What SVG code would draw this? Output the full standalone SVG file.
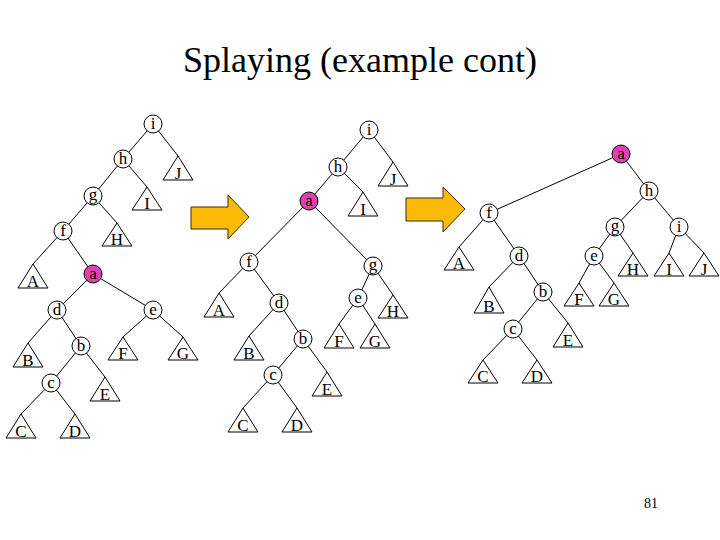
<svg xmlns="http://www.w3.org/2000/svg" width="720" height="540" viewBox="0 0 720 540">
<style>
.e{stroke:#000;stroke-width:1;fill:none}
.n{fill:#fff;stroke:#000;stroke-width:1}
.p{fill:#E040B0;stroke:#000;stroke-width:1}
.t{fill:#fff;stroke:#000;stroke-width:1}
.lbl{font-family:"Liberation Serif","Times New Roman",serif;font-size:17px;text-anchor:middle;fill:#000}
.arr{fill:#FBBA05;stroke:#3a2a00;stroke-width:1}
</style>
<rect width="720" height="540" fill="#fff"/>
<text x="360" y="72" font-family="Liberation Serif, Times New Roman, serif" font-size="36" text-anchor="middle">Splaying (example cont)</text>
<text x="651" y="508" font-family="Liberation Serif, Times New Roman, serif" font-size="14" text-anchor="middle">81</text>

<g id="connectors">
<line class="e" x1="153" y1="124" x2="123" y2="159"/>
<line class="e" x1="153" y1="124" x2="178" y2="156"/>
<line class="e" x1="123" y1="159" x2="93" y2="196"/>
<line class="e" x1="123" y1="159" x2="147" y2="187"/>
<line class="e" x1="93" y1="196" x2="63" y2="231"/>
<line class="e" x1="93" y1="196" x2="117" y2="223"/>
<line class="e" x1="63" y1="231" x2="33" y2="264"/>
<line class="e" x1="63" y1="231" x2="93" y2="274"/>
<line class="e" x1="93" y1="274" x2="57" y2="310"/>
<line class="e" x1="93" y1="274" x2="153" y2="310"/>
<line class="e" x1="57" y1="310" x2="28" y2="343"/>
<line class="e" x1="57" y1="310" x2="81" y2="346"/>
<line class="e" x1="81" y1="346" x2="51" y2="383"/>
<line class="e" x1="81" y1="346" x2="105" y2="377"/>
<line class="e" x1="51" y1="383" x2="21" y2="414"/>
<line class="e" x1="51" y1="383" x2="75" y2="414"/>
<line class="e" x1="153" y1="310" x2="123" y2="337"/>
<line class="e" x1="153" y1="310" x2="183" y2="337"/>
<line class="e" x1="369" y1="130" x2="338" y2="167"/>
<line class="e" x1="369" y1="130" x2="393" y2="162"/>
<line class="e" x1="338" y1="167" x2="309" y2="201"/>
<line class="e" x1="338" y1="167" x2="363" y2="192"/>
<line class="e" x1="309" y1="201" x2="249" y2="262"/>
<line class="e" x1="309" y1="201" x2="373" y2="266"/>
<line class="e" x1="249" y1="262" x2="219" y2="293"/>
<line class="e" x1="249" y1="262" x2="279" y2="303"/>
<line class="e" x1="279" y1="303" x2="249" y2="336"/>
<line class="e" x1="279" y1="303" x2="303" y2="339"/>
<line class="e" x1="303" y1="339" x2="273" y2="375"/>
<line class="e" x1="303" y1="339" x2="327" y2="372"/>
<line class="e" x1="273" y1="375" x2="243" y2="408"/>
<line class="e" x1="273" y1="375" x2="297" y2="408"/>
<line class="e" x1="373" y1="266" x2="358" y2="298"/>
<line class="e" x1="373" y1="266" x2="393" y2="295"/>
<line class="e" x1="358" y1="298" x2="339" y2="324"/>
<line class="e" x1="358" y1="298" x2="375" y2="324"/>
<line class="e" x1="621" y1="154" x2="489" y2="213"/>
<line class="e" x1="621" y1="154" x2="649" y2="191"/>
<line class="e" x1="649" y1="191" x2="615" y2="227"/>
<line class="e" x1="649" y1="191" x2="679" y2="227"/>
<line class="e" x1="489" y1="213" x2="459" y2="247"/>
<line class="e" x1="489" y1="213" x2="519" y2="256"/>
<line class="e" x1="519" y1="256" x2="489" y2="287"/>
<line class="e" x1="519" y1="256" x2="543" y2="292"/>
<line class="e" x1="543" y1="292" x2="513" y2="329"/>
<line class="e" x1="543" y1="292" x2="568" y2="323"/>
<line class="e" x1="513" y1="329" x2="483" y2="360"/>
<line class="e" x1="513" y1="329" x2="537" y2="360"/>
<line class="e" x1="615" y1="227" x2="594" y2="256"/>
<line class="e" x1="615" y1="227" x2="633" y2="253"/>
<line class="e" x1="594" y1="256" x2="579" y2="283"/>
<line class="e" x1="594" y1="256" x2="614" y2="283"/>
<line class="e" x1="679" y1="227" x2="669" y2="253"/>
<line class="e" x1="679" y1="227" x2="704" y2="253"/>
</g>

<g id="arrows">
<polygon class="arr" points="191,207 228,207 228,195 249,217 228,239 228,229 191,229"/>
<polygon class="arr" points="406,198 443,198 443,187 465,209 443,232 443,221 406,221"/>
</g>

<g id="L_i"><circle class="n" cx="153" cy="124" r="9"/><text class="lbl" x="153" y="129">i</text></g>
<g id="L_h"><circle class="n" cx="123" cy="159" r="9"/><text class="lbl" x="123" y="164">h</text></g>
<g id="L_g"><circle class="n" cx="93" cy="196" r="9"/><text class="lbl" x="93" y="200">g</text></g>
<g id="L_f"><circle class="n" cx="63" cy="231" r="9"/><text class="lbl" x="63" y="236">f</text></g>
<g id="L_a"><circle class="p" cx="93" cy="274" r="9"/><text class="lbl" x="93" y="279">a</text></g>
<g id="L_d"><circle class="n" cx="57" cy="310" r="9"/><text class="lbl" x="57" y="315">d</text></g>
<g id="L_e"><circle class="n" cx="153" cy="310" r="9"/><text class="lbl" x="153" y="315">e</text></g>
<g id="L_b"><circle class="n" cx="81" cy="346" r="9"/><text class="lbl" x="81" y="351">b</text></g>
<g id="L_c"><circle class="n" cx="51" cy="383" r="9"/><text class="lbl" x="51" y="388">c</text></g>
<g id="L_J"><polygon class="t" points="178,156 163,180 193,180"/><text class="lbl" x="178" y="179">J</text></g>
<g id="L_I"><polygon class="t" points="147,187 132,210 162,210"/><text class="lbl" x="147" y="209">I</text></g>
<g id="L_H"><polygon class="t" points="117,223 102,246 132,246"/><text class="lbl" x="117" y="245">H</text></g>
<g id="L_A"><polygon class="t" points="33,264 18,288 48,288"/><text class="lbl" x="33" y="287">A</text></g>
<g id="L_B"><polygon class="t" points="28,343 13,367 43,367"/><text class="lbl" x="28" y="366">B</text></g>
<g id="L_F"><polygon class="t" points="123,337 108,360 138,360"/><text class="lbl" x="123" y="359">F</text></g>
<g id="L_G"><polygon class="t" points="183,337 168,360 198,360"/><text class="lbl" x="183" y="359">G</text></g>
<g id="L_E"><polygon class="t" points="105,377 90,401 120,401"/><text class="lbl" x="105" y="400">E</text></g>
<g id="L_C"><polygon class="t" points="21,414 6,438 36,438"/><text class="lbl" x="21" y="437">C</text></g>
<g id="L_D"><polygon class="t" points="75,414 60,438 90,438"/><text class="lbl" x="75" y="437">D</text></g>

<g id="M_i"><circle class="n" cx="369" cy="130" r="9"/><text class="lbl" x="369" y="135">i</text></g>
<g id="M_h"><circle class="n" cx="338" cy="167" r="9"/><text class="lbl" x="338" y="172">h</text></g>
<g id="M_a"><circle class="p" cx="309" cy="201" r="9"/><text class="lbl" x="309" y="206">a</text></g>
<g id="M_f"><circle class="n" cx="249" cy="262" r="9"/><text class="lbl" x="249" y="267">f</text></g>
<g id="M_g"><circle class="n" cx="373" cy="266" r="9"/><text class="lbl" x="373" y="270">g</text></g>
<g id="M_d"><circle class="n" cx="279" cy="303" r="9"/><text class="lbl" x="279" y="308">d</text></g>
<g id="M_b"><circle class="n" cx="303" cy="339" r="9"/><text class="lbl" x="303" y="344">b</text></g>
<g id="M_c"><circle class="n" cx="273" cy="375" r="9"/><text class="lbl" x="273" y="380">c</text></g>
<g id="M_e"><circle class="n" cx="358" cy="298" r="9"/><text class="lbl" x="358" y="303">e</text></g>
<g id="M_J"><polygon class="t" points="393,162 378,186 408,186"/><text class="lbl" x="393" y="185">J</text></g>
<g id="M_I"><polygon class="t" points="363,192 348,216 378,216"/><text class="lbl" x="363" y="215">I</text></g>
<g id="M_A"><polygon class="t" points="219,293 204,317 234,317"/><text class="lbl" x="219" y="316">A</text></g>
<g id="M_B"><polygon class="t" points="249,336 234,360 264,360"/><text class="lbl" x="249" y="359">B</text></g>
<g id="M_E"><polygon class="t" points="327,372 312,396 342,396"/><text class="lbl" x="327" y="395">E</text></g>
<g id="M_C"><polygon class="t" points="243,408 228,432 258,432"/><text class="lbl" x="243" y="431">C</text></g>
<g id="M_D"><polygon class="t" points="297,408 282,432 312,432"/><text class="lbl" x="297" y="431">D</text></g>
<g id="M_H"><polygon class="t" points="393,295 378,318 408,318"/><text class="lbl" x="393" y="317">H</text></g>
<g id="M_F"><polygon class="t" points="339,324 324,348 354,348"/><text class="lbl" x="339" y="347">F</text></g>
<g id="M_G"><polygon class="t" points="375,324 360,348 390,348"/><text class="lbl" x="375" y="347">G</text></g>

<g id="R_a"><circle class="p" cx="621" cy="154" r="9"/><text class="lbl" x="621" y="159">a</text></g>
<g id="R_h"><circle class="n" cx="649" cy="191" r="9"/><text class="lbl" x="649" y="196">h</text></g>
<g id="R_f"><circle class="n" cx="489" cy="213" r="9"/><text class="lbl" x="489" y="218">f</text></g>
<g id="R_g"><circle class="n" cx="615" cy="227" r="9"/><text class="lbl" x="615" y="231">g</text></g>
<g id="R_i"><circle class="n" cx="679" cy="227" r="9"/><text class="lbl" x="679" y="232">i</text></g>
<g id="R_d"><circle class="n" cx="519" cy="256" r="9"/><text class="lbl" x="519" y="261">d</text></g>
<g id="R_e"><circle class="n" cx="594" cy="256" r="9"/><text class="lbl" x="594" y="261">e</text></g>
<g id="R_b"><circle class="n" cx="543" cy="292" r="9"/><text class="lbl" x="543" y="297">b</text></g>
<g id="R_c"><circle class="n" cx="513" cy="329" r="9"/><text class="lbl" x="513" y="334">c</text></g>
<g id="R_A"><polygon class="t" points="459,247 444,270 474,270"/><text class="lbl" x="459" y="269">A</text></g>
<g id="R_H"><polygon class="t" points="633,253 618,276 648,276"/><text class="lbl" x="633" y="275">H</text></g>
<g id="R_I"><polygon class="t" points="669,253 654,276 684,276"/><text class="lbl" x="669" y="275">I</text></g>
<g id="R_J"><polygon class="t" points="704,253 689,276 719,276"/><text class="lbl" x="704" y="275">J</text></g>
<g id="R_B"><polygon class="t" points="489,287 474,313 504,313"/><text class="lbl" x="489" y="312">B</text></g>
<g id="R_F"><polygon class="t" points="579,283 564,306 594,306"/><text class="lbl" x="579" y="305">F</text></g>
<g id="R_G"><polygon class="t" points="614,283 599,306 629,306"/><text class="lbl" x="614" y="305">G</text></g>
<g id="R_E"><polygon class="t" points="568,323 553,347 583,347"/><text class="lbl" x="568" y="346">E</text></g>
<g id="R_C"><polygon class="t" points="483,360 468,383 498,383"/><text class="lbl" x="483" y="382">C</text></g>
<g id="R_D"><polygon class="t" points="537,360 522,383 552,383"/><text class="lbl" x="537" y="382">D</text></g>
</svg>
